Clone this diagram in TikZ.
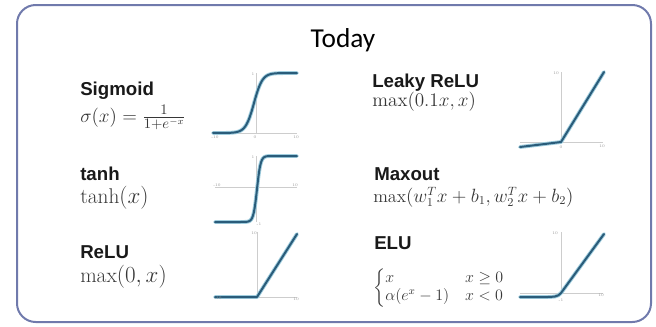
\documentclass[tikz,border=0pt]{standalone}
\usepackage{fontspec}
\usepackage{amsmath}
\newfontfamily\titlefont{Carlito}
\newfontfamily\labelfont{Liberation Sans}
\definecolor{framec}{RGB}{112,122,172}
\definecolor{curvec}{RGB}{42,92,122}
\definecolor{haloc}{RGB}{160,205,222}
\definecolor{axisc}{RGB}{205,205,205}
\definecolor{formulac}{RGB}{55,55,55}
\definecolor{labelc}{RGB}{25,25,25}
\definecolor{tickc}{RGB}{150,150,150}
\begin{document}
\begin{tikzpicture}[x=0.75pt,y=-0.75pt,
  fname/.style={anchor=base west, inner sep=0pt, text=labelc,
    font=\labelfont\bfseries\fontsize{14}{16}\selectfont},
  fmath/.style={anchor=base west, inner sep=0pt, text=formulac},
  axisline/.style={draw=axisc, line width=0.5pt},
  curveline/.style={draw=curvec, line width=1.5pt, line join=round, line cap=round,
    preaction={draw=haloc, line width=2.9pt, line cap=round, line join=round}},
  ticklbl/.style={font=\fontsize{3}{3}\selectfont, text=tickc, inner sep=0.3pt}]
\useasboundingbox (0,0) rectangle (656,326);
\draw[framec, line width=1.5pt, rounded corners=14pt] (17,5) rectangle (651,322);

% title
\node[anchor=base, inner sep=0pt, font=\titlefont\fontsize{20.5}{24}\selectfont] (title) at (343,47) {Today};

% left column labels
\node[fname] (sigL) at (80,95) {Sigmoid};
\node[fmath, font=\fontsize{15}{18}\selectfont] (sigF) at (80,122) {$\sigma(x)=\frac{1}{1+e^{-x}}$};
\node[fname] (tanhL) at (80,180) {tanh};
\node[fmath, font=\fontsize{16}{19}\selectfont] (tanhF) at (80,203) {$\tanh(x)$};
\node[fname] (reluL) at (80,258) {ReLU};
\node[fmath, font=\fontsize{16}{19}\selectfont] (reluF) at (80,282) {$\max(0,x)$};

% right column labels
\node[fname] (lkL) at (372,87) {Leaky ReLU};
\node[fmath, font=\fontsize{14.5}{17}\selectfont] (lkF) at (372,106) {$\max(0.1x,x)$};
\node[fname] (mxL) at (374,180) {Maxout};
\node[fmath, font=\fontsize{13.5}{16}\selectfont] (mxF) at (373,202) {$\max(w_1^Tx+b_1,w_2^Tx+b_2)$};
\node[fname] (eluL) at (374,249) {ELU};
\node[fmath, anchor=west, font=\fontsize{12}{11}\selectfont] (eluF) at (373,288)
  {$\begin{cases} x & x\geq 0\\ \alpha(e^x-1) & x<0\end{cases}$};

% sigmoid plot
\draw[axisline] (213,133) -- (297,133);
\draw[axisline] (256,73) -- (256,133);
\draw[curveline] plot[domain=213:297, samples=90, smooth]
  (\x, {133-60/(1+exp(-max(-8,min(8,(\x-254)/4.2))))});
\node[ticklbl] (sig1) at (253,74) {1};
\node[ticklbl] (sigm) at (215,137.5) {-10};
\node[ticklbl] (sig0) at (255,137.5) {0};
\node[ticklbl] (sigp) at (296,137.5) {10};

% tanh plot
\draw[axisline] (215,187) -- (297,187);
\draw[axisline] (256,156) -- (256,222);
\draw[curveline] plot[domain=215:297, samples=90, smooth]
  (\x, {189-33*tanh(max(-6,min(6,(\x-257)/3.6)))});
\node[ticklbl] (th1) at (253,157) {1};
\node[ticklbl] (thm) at (217,185) {-10};
\node[ticklbl] (thp) at (295,185) {10};
\node[ticklbl] (thb) at (259,224) {-1};

% relu plot
\draw[axisline] (215,297) -- (297,297);
\draw[axisline] (257,232) -- (257,297);
\draw[curveline] (215,297) -- (257,297) -- (297,234);
\node[ticklbl] (re1) at (254,233) {10};
\node[ticklbl] (rem) at (218,298.5) {-10};
\node[ticklbl] (rep) at (296,299.5) {10};

% leaky relu plot
\draw[axisline] (520,142) -- (603,142);
\draw[axisline] (561,72) -- (561,142);
\draw[curveline] (520,147) -- (561,142) -- (604,72);
\node[ticklbl] (lk1) at (556,73) {10};
\node[ticklbl] (lk0) at (561,147) {0};
\node[ticklbl] (lkp) at (602,146) {10};

% elu plot
\draw[axisline] (520,293) -- (603,293);
\draw[axisline] (561,232) -- (561,293);
\draw[curveline] (520,297) -- (545,297) .. controls (553,297) and (558,297) .. (561,293) -- (604,234);
\node[ticklbl] (el1) at (555,233) {10};
\node[ticklbl] (elb) at (561,300) {-1};
\node[ticklbl] (elp) at (601,295.5) {10};
\end{tikzpicture}
\end{document}
